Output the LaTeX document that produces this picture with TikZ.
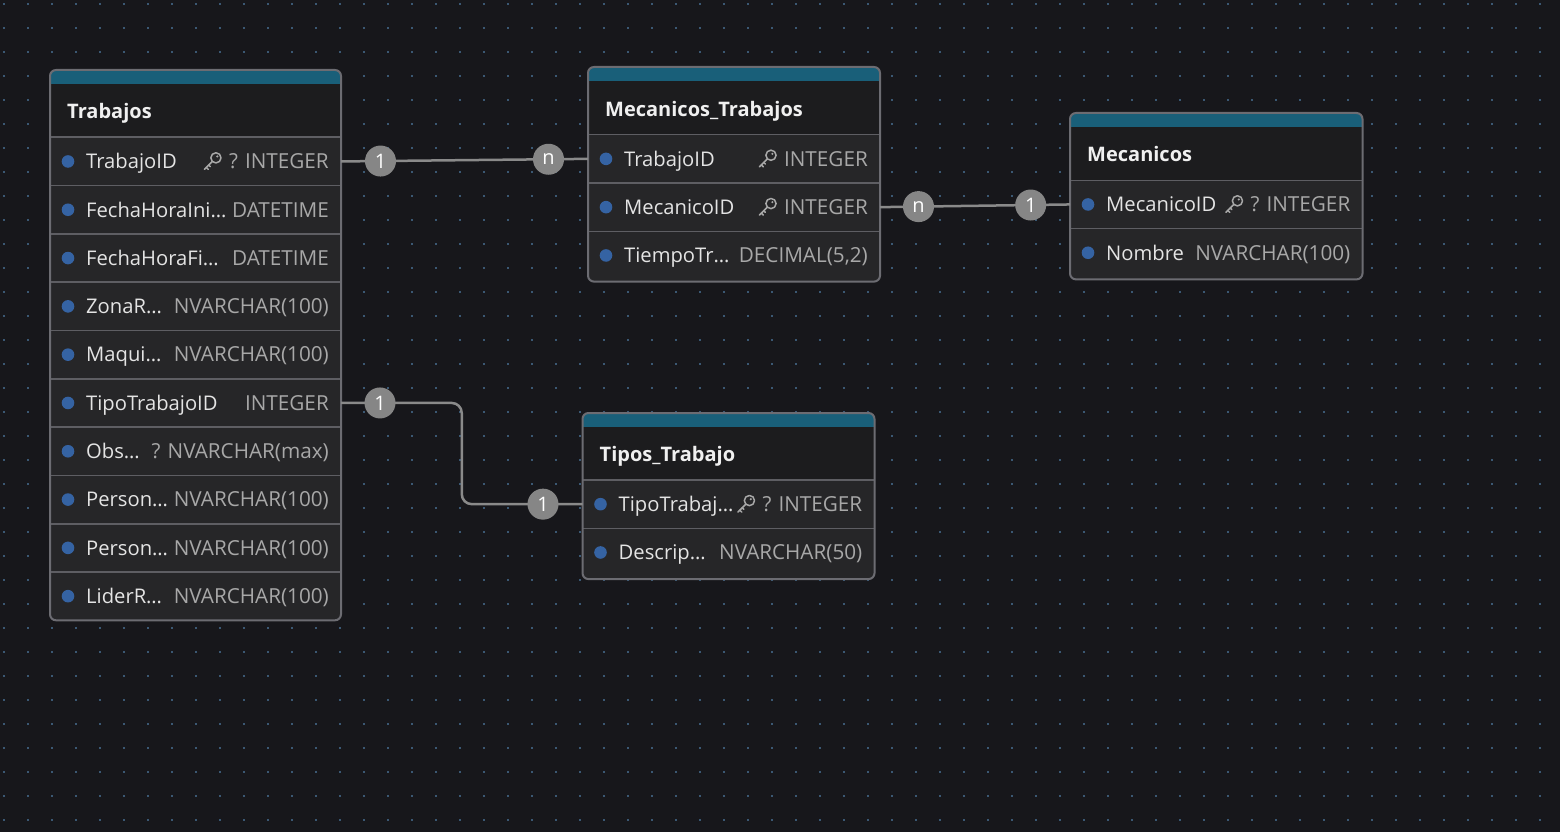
\documentclass[tikz,border=0pt]{standalone}
\usepackage{fontspec}
\setmainfont{Open Sans}
\usetikzlibrary{calc}
\definecolor{bgc}{HTML}{17171B}
\definecolor{gridc}{HTML}{3B5873}
\definecolor{rowc}{HTML}{262628}
\definecolor{hdc}{HTML}{1C1C1E}
\definecolor{tealc}{HTML}{195F79}
\definecolor{borderc}{HTML}{6C6C72}
\definecolor{sepc}{HTML}{5E5E63}
\definecolor{pkc}{HTML}{3563A3}
\definecolor{namec}{HTML}{E4E4E4}
\definecolor{typec}{HTML}{A8A8A8}
\definecolor{titlec}{HTML}{F0F0F0}
\definecolor{cardc}{HTML}{868686}
\definecolor{linec}{HTML}{8A8A8A}
\def\rowh{48.3}
\tikzset{
  tablebox/.style={fill=rowc, rounded corners=6pt, inner sep=0pt, outer sep=0pt, draw=none},
  rowbox/.style={inner sep=0pt, outer sep=0pt, draw=none},
  pkdot/.style={circle, fill=pkc, minimum size=12.6, inner sep=0pt, outer sep=0pt},
  colname/.style={font=\fontsize{20.2}{24}\selectfont, text=namec, inner sep=0pt},
  coltype/.style={font=\fontsize{20.7}{24}\selectfont, text=typec, inner sep=0pt},
  coltitle/.style={font=\fontsize{20}{24}\selectfont\bfseries, text=titlec, inner sep=0pt},
  card/.style={circle, fill=cardc, text=white, font=\fontsize{20}{24}\selectfont, minimum size=31, inner sep=0pt},
  rel/.style={draw=linec, line width=2.5},
  keyst/.style={draw=typec, line width=1.5, line cap=round, line join=round},
}
\newcommand\drawkey[1]{%
  \begin{scope}[shift={(#1)}]
    \draw[keyst] (3.6,-3.6) circle (5.1);
    \fill[typec] (5.0,-5.0) circle (1.2);
    \draw[keyst] (0,0) -- (-8,8);
    \draw[keyst] (-6,6) -- (-4,8);
    \draw[keyst] (-3.6,3.6) -- (-2,5.2);
  \end{scope}}
\newcommand\ertab[8]{% id, L, T, W, H, N, title, extra bottom
  \pgfmathsetmacro\tabB{#3+#5+#6*\rowh+#8}
  \node[tablebox, anchor=north west, minimum width=#4, minimum height={\tabB-#3}] (#1) at (#2,#3) {};
  \begin{scope}
    \clip[rounded corners=6] (#1.north west) rectangle (#1.south east);
    \fill[hdc] (#1.north west) rectangle ($(#1.north east)+(0,#5)$);
    \fill[tealc] (#1.north west) rectangle ($(#1.north east)+(0,14)$);
  \end{scope}
  \foreach \k in {1,...,#6} {\draw[sepc, line width=1.6] ($(#1.north west)+(0,{#5+(\k-1)*\rowh})$) -- ++(#4,0);}
  \draw[borderc, line width=2, rounded corners=6] (#1.north west) rectangle (#1.south east);
  \node[coltitle, anchor=base west] (#1-title) at ($(#1.north west)+(17,{#5-18.5})$) {#7};
  \def\curW{#4}\def\curH{#5}%
}
\newcommand\errow[5]{% id, index, name, type, key
  \node[rowbox, anchor=north west, minimum width=\curW, minimum height=\rowh] (#1-#2) at ($(#1.north west)+(0,{\curH+(#2-1)*\rowh})$) {};
  \node[pkdot] (#1-#2-d) at ($(#1-#2.west)+(18,0)$) {};
  \node[colname, anchor=base west] (#1-#2-n) at ($(#1-#2.west)+(36,7.3)$) {#3};
  \node[coltype, anchor=base east] (#1-#2-t) at ($(#1-#2.east)+(-12,7.3)$) {#4};
  \ifnum#5=1
    \coordinate (#1-#2-k) at ($(#1-#2-t.base west)+(-16.5,-7.3)$);
    \drawkey{#1-#2-k}
  \fi
}
\begin{document}
\begin{tikzpicture}[x=1pt,y=-1pt]
  \useasboundingbox (0,0) rectangle (1560,832);
  \fill[bgc] (0,0) rectangle (1560,832);
  \foreach \i in {0,...,64} {\foreach \j in {0,...,34} {\fill[gridc] ({3+24*\i},{3+24*\j}) rectangle ++(2,2);}}

  % Trabajos
  \ertab{trab}{50}{70}{291}{67.3}{10}{Trabajos}{0}
  \errow{trab}{1}{TrabajoID}{? INTEGER}{1}
  \errow{trab}{2}{FechaHoraIni…}{DATETIME}{0}
  \errow{trab}{3}{FechaHoraFi…}{DATETIME}{0}
  \errow{trab}{4}{ZonaR…}{NVARCHAR(100)}{0}
  \errow{trab}{5}{Maqui…}{NVARCHAR(100)}{0}
  \errow{trab}{6}{TipoTrabajoID}{INTEGER}{0}
  \errow{trab}{7}{Obs…}{? NVARCHAR(max)}{0}
  \errow{trab}{8}{Person…}{NVARCHAR(100)}{0}
  \errow{trab}{9}{Person…}{NVARCHAR(100)}{0}
  \errow{trab}{10}{LiderR…}{NVARCHAR(100)}{0}

  % Mecanicos_Trabajos
  \ertab{mt}{588}{67}{292}{67.7}{3}{Mecanicos\_Trabajos}{2}
  \errow{mt}{1}{TrabajoID}{INTEGER}{1}
  \errow{mt}{2}{MecanicoID}{INTEGER}{1}
  \errow{mt}{3}{TiempoTr…}{DECIMAL(5,2)}{0}

  % Mecanicos
  \ertab{mec}{1070}{113}{292.5}{67.3}{2}{Mecanicos}{2.5}
  \errow{mec}{1}{MecanicoID}{? INTEGER}{1}
  \errow{mec}{2}{Nombre}{NVARCHAR(100)}{0}

  % Tipos_Trabajo
  \ertab{tt}{582.5}{413}{292}{67}{2}{Tipos\_Trabajo}{2.5}
  \errow{tt}{1}{TipoTrabaj…}{? INTEGER}{1}
  \errow{tt}{2}{Descrip…}{NVARCHAR(50)}{0}

  % relations
  \draw[rel] (trab-1.east) -- (mt-1.west);
  \node[card] (c1) at ($(trab-1.east)!39.5pt!(mt-1.west)$) {1};
  \node[card] (c2) at ($(mt-1.west)!39.5pt!(trab-1.east)$) {n};

  \draw[rel] (mt-2.east) -- (mec-1.west);
  \node[card] (c3) at ($(mt-2.east)!38.5pt!(mec-1.west)$) {n};
  \node[card] (c4) at ($(mec-1.west)!39.3pt!(mt-2.east)$) {1};

  \coordinate (mid) at ($(trab-6.east)!0.5!(tt-1.west)$);
  \draw[rel, rounded corners=10] (trab-6.east) -- (trab-6.east -| mid) -- (mid |- tt-1.west) -- (tt-1.west);
  \node[card] (c5) at ($(trab-6.east)+(39,0)$) {1};
  \node[card] (c6) at ($(tt-1.west)+(-39.5,0)$) {1};
\end{tikzpicture}
\end{document}
